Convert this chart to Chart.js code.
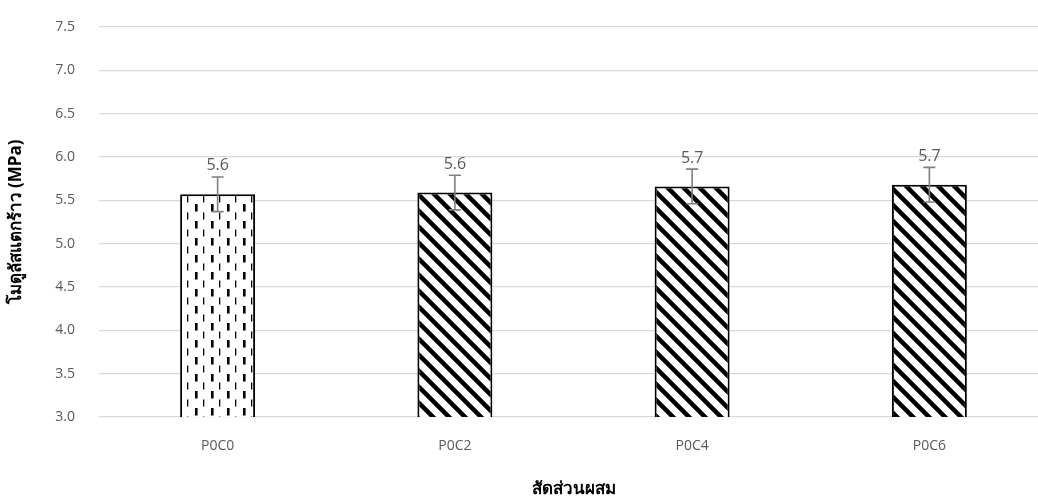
<!DOCTYPE html>
<html>
<head>
<meta charset="utf-8">
<script src="https://cdn.jsdelivr.net/npm/chart.js@4"></script>
<style>
  html, body { margin: 0; padding: 0; background: #fff; overflow: hidden; }
  #wrap { width: 1050px; height: 502px; }
</style>
</head>
<body>
<div id="wrap"><canvas id="mixChart" width="1050" height="502"></canvas></div>
<script>
const categories = ["P0C0", "P0C2", "P0C4", "P0C6"];
const modulusValues = [5.57, 5.59, 5.66, 5.68];
const modulusErrors = [0.20, 0.20, 0.20, 0.20];
const valueLabels = ["5.6", "5.6", "5.7", "5.7"];
const yTicks = [3.0, 3.5, 4.0, 4.5, 5.0, 5.5, 6.0, 6.5, 7.0, 7.5];

const FONT = "'Open Sans', 'Noto Sans', 'DejaVu Sans', sans-serif";

// dashed vertical fill (first bar)
function dashedPattern() {
  const c = document.createElement("canvas");
  c.width = 16; c.height = 17;
  const g = c.getContext("2d");
  g.fillStyle = "#fff";
  g.fillRect(0, 0, 16, 17);
  g.fillStyle = "#000";
  g.fillRect(3, 0, 2.6, 7.5);
  g.fillRect(11, 8.5, 1.3, 7);
  return g.createPattern(c, "repeat");
}

// wide downward diagonal fill
function diagonalPattern() {
  const c = document.createElement("canvas");
  c.width = 16; c.height = 16;
  const g = c.getContext("2d");
  g.fillStyle = "#fff";
  g.fillRect(0, 0, 16, 16);
  g.strokeStyle = "#000";
  g.lineWidth = 4.5;
  for (const k of [-16, 0, 16]) {
    g.beginPath();
    g.moveTo(k - 2, -2);
    g.lineTo(k + 18, 18);
    g.stroke();
  }
  return g.createPattern(c, "repeat");
}

const dash = dashedPattern();
const diag = diagonalPattern();

const errorBars = {
  id: "errorBars",
  afterDatasetsDraw(chart) {
    const { ctx, scales: { y } } = chart;
    const meta = chart.getDatasetMeta(0);
    ctx.save();
    ctx.strokeStyle = "#7f7f7f";
    ctx.lineWidth = 1.6;
    meta.data.forEach((bar, i) => {
      const v = modulusValues[i];
      const e = modulusErrors[i];
      const px = bar.x;
      const top = y.getPixelForValue(v + e);
      const bot = y.getPixelForValue(v - e);
      ctx.beginPath();
      ctx.moveTo(px, top); ctx.lineTo(px, bot);
      ctx.moveTo(px - 6, top); ctx.lineTo(px + 6, top);
      ctx.moveTo(px - 6, bot); ctx.lineTo(px + 6, bot);
      ctx.stroke();
      ctx.fillStyle = "#595959";
      ctx.font = "16px " + FONT;
      ctx.textAlign = "center";
      ctx.textBaseline = "bottom";
      ctx.fillText(valueLabels[i], px, top - 3);
    });
    ctx.restore();
  }
};

new Chart(document.getElementById("mixChart").getContext("2d"), {
  type: "bar",
  data: {
    labels: categories,
    datasets: [{
      data: modulusValues,
      backgroundColor: [dash, diag, diag, diag],
      borderColor: "#000",
      borderWidth: 2,
      borderSkipped: false,
      barPercentage: 1,
      categoryPercentage: 0.316
    }]
  },
  options: {
    responsive: false,
    animation: false,
    layout: { padding: { top: 27, right: 2, left: 0, bottom: 0 } },
    plugins: {
      legend: { display: false },
      tooltip: { enabled: false }
    },
    scales: {
      x: {
        grid: { display: false, drawTicks: false },
        border: { display: false },
        ticks: { color: "#595959", font: { family: FONT, size: 14 }, padding: 21 },
        title: {
          display: true,
          text: "สัดส่วนผสม",
          color: "#000",
          font: { family: FONT, size: 17, weight: "bold" },
          padding: { top: 0, bottom: 3 }
        },
        afterFit(s) { s.height = 85; }
      },
      y: {
        min: 3,
        max: 7.5,
        afterBuildTicks(s) { s.ticks = yTicks.map(v => ({ value: v })); },
        grid: {
          color: "#d9d9d9",
          lineWidth: 1.3,
          drawTicks: true,
          tickLength: 14,
          tickColor: "rgba(0,0,0,0)"
        },
        border: { display: false },
        ticks: {
          color: "#595959",
          font: { family: FONT, size: 14 },
          padding: 10,
          callback: v => v.toFixed(1)
        },
        title: {
          display: true,
          text: "โมดูลัสแตกร้าว (MPa)",
          color: "#000",
          font: { family: FONT, size: 17, weight: "bold" },
          padding: { top: 6, bottom: 0 }
        },
        afterFit(s) { s.width = 99; }
      }
    }
  },
  plugins: [errorBars]
});
</script>
</body>
</html>
